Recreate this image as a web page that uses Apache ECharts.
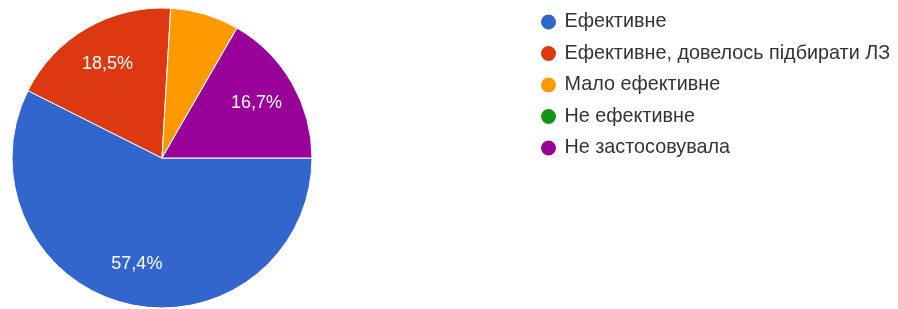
<!DOCTYPE html>
<html>
<head>
<meta charset="utf-8">
<script src="https://cdn.jsdelivr.net/npm/echarts@6/dist/echarts.min.js"></script>
<style>
  html, body { margin: 0; padding: 0; background: #fff; }
  #chart { width: 898px; height: 309px; }
</style>
</head>
<body>
<div id="chart"></div>
<script>
// категорії і кількість відповідей (54 всього)
var categories = ['Ефективне', 'Ефективне, довелось підбирати ЛЗ', 'Мало ефективне', 'Не ефективне', 'Не застосовувала'];
var counts = [31, 10, 4, 0, 9];
var colors = ['#3366cc', '#dc3912', '#ff9900', '#109618', '#990099'];

var chart = echarts.init(document.getElementById('chart'));

var pieData = [];
for (var i = 0; i < categories.length; i++) {
    pieData.push({ name: categories[i], value: counts[i], itemStyle: { color: colors[i] } });
}

var option = {
    animation: false,
    legend: {
        orient: 'vertical',
        left: 534,
        top: 7,
        icon: 'circle',
        itemWidth: 22,
        itemHeight: 17,
        itemGap: 11.5,
        data: categories,
        textStyle: {
            fontFamily: 'Liberation Sans, Arial, sans-serif',
            fontSize: 19.8,
            lineHeight: 17,
            color: '#333'
        }
    },
    series: [
        {
            name: 'pie',
            type: 'pie',
            center: [162, 158],
            radius: [0, 150],
            startAngle: 0,
            clockwise: true,
            silent: true,
            label: { show: false },
            labelLine: { show: false },
            itemStyle: { borderColor: '#fff', borderWidth: 1 },
            data: pieData
        },
        {
            // прозорий шар тільки для підписів
            name: 'labels',
            type: 'pie',
            center: [162, 158],
            radius: [62, 150],
            startAngle: 0,
            clockwise: true,
            silent: true,
            percentPrecision: 1,
            itemStyle: { color: 'rgba(0,0,0,0)' },
            labelLine: { show: false },
            label: {
                show: true,
                position: 'inside',
                color: '#fff',
                fontFamily: 'Liberation Sans, Arial, sans-serif',
                fontSize: 18,
                formatter: function (p) {
                    if (p.percent < 10) return '';
                    return p.percent.toFixed(1).replace('.', ',') + '%';
                }
            },
            data: categories.map(function (c, i) { return { name: c, value: counts[i] }; })
        }
    ]
};

chart.setOption(option);
</script>
</body>
</html>
